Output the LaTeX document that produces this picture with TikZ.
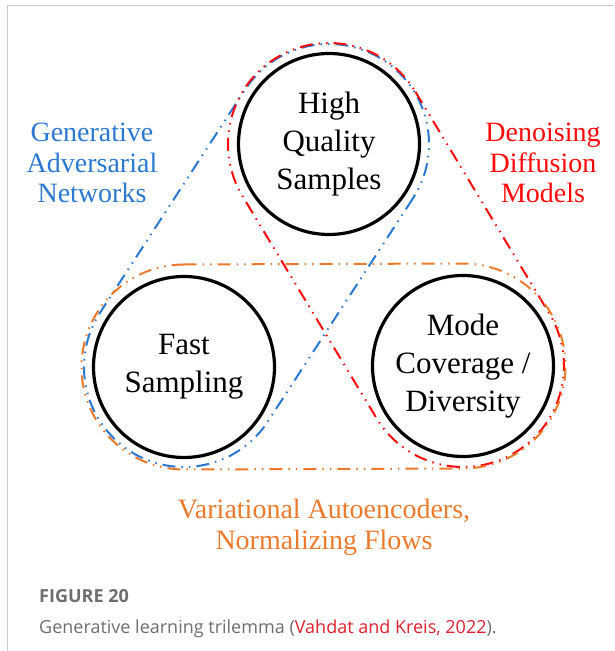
\documentclass[tikz,border=0pt]{standalone}
\usepackage{fontspec}
\setmainfont{Liberation Serif}
\newfontfamily\capfont{Open Sans}
\usetikzlibrary{calc}

\definecolor{ganblue}{HTML}{2A78D2}
\definecolor{ddmred}{HTML}{FF0A0A}
\definecolor{vaeorange}{HTML}{EC7A2C}
\definecolor{capgray}{HTML}{6E6E6E}
\definecolor{citered}{HTML}{E0202C}
\definecolor{framegray}{HTML}{C8C8C8}

\tikzset{
	bubble/.style = {circle, draw, line width=3.2pt, minimum size=181pt, inner sep=0pt, align=center, font=\fontsize{31}{38}\selectfont},
	family/.style = {align=center, font=\fontsize{28}{30.5}\selectfont},
	hull/.style = {line width=2pt, dash pattern=on 13pt off 6pt on 1.5pt off 6pt on 1.5pt off 6pt},
	capline/.style = {anchor=base west, inner sep=0pt, capgray, font=\capfont\fontsize{18}{22}\selectfont}
}

\begin{document}
\begin{tikzpicture}[x=1pt, y=1pt]
	\useasboundingbox (0,0) rectangle (614,651);
	\draw[framegray, line width=1.3pt] (7.3,0) -- (7.3,645.3) -- (614,645.3);

	\node[bubble] (hq) at (329,507) {High\\Quality\\Samples};
	\node[bubble] (fast) at (184,284) {Fast\\Sampling};
	\node[bubble] (mode) at (463,285) {Mode\\Coverage /\\Diversity};

	\foreach \first/\second/\rad/\col in {hq/fast/100/ganblue, hq/mode/101/ddmred, fast/mode/102.5/vaeorange}
		\draw[hull, \col] let \p1 = ($(\second.center)-(\first.center)$), \n1 = {atan2(\y1,\x1)} in
			($(\first.center)+(\n1+90:\rad)$) -- ($(\second.center)+(\n1+90:\rad)$)
			arc[start angle=\n1+90, delta angle=-180, radius=\rad]
			-- ($(\first.center)+(\n1-90:\rad)$)
			arc[start angle=\n1-90, delta angle=-180, radius=\rad] -- cycle;

	\node[family, ganblue] (gan) at (92,488) {Generative\\Adversarial\\Networks};
	\node[family, ddmred] (ddm) at (543,488) {Denoising\\Diffusion\\Models};
	\node[family, vaeorange] (vae) at (324,123.5) {Variational Autoencoders,\\Normalizing Flows};

	\node[capline] (fig) at (39,48) {\bfseries FIGURE 20};
	\node[capline] (cap) at (39,17) {Generative learning trilemma (\textcolor{citered}{Vahdat and Kreis, 2022}).};
\end{tikzpicture}
\end{document}
